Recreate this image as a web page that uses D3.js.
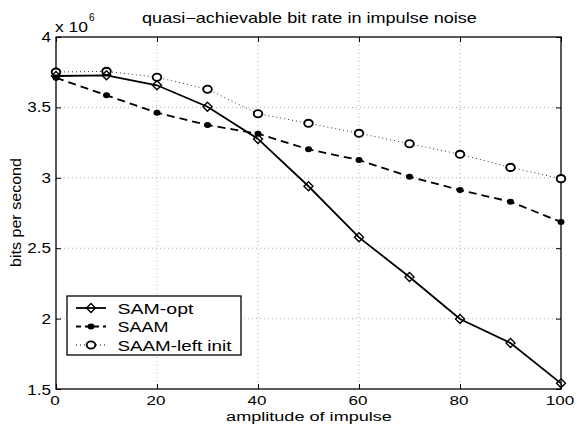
<!DOCTYPE html>
<html><head><meta charset="utf-8">
<script src="https://cdn.jsdelivr.net/npm/d3@7"></script>
<style>body{margin:0;background:#fff}svg{display:block;font-family:"Liberation Sans",Arial,sans-serif}</style>
</head><body><svg id="c" width="577" height="426"></svg>
<script>
const amplitudes=[0,10,20,30,40,50,60,70,80,90,100];
const samOpt=[3.723,3.728,3.657,3.505,3.276,2.94,2.577,2.295,1.997,1.826,1.54];
const saam=[3.71,3.586,3.462,3.375,3.313,3.202,3.126,3.008,2.913,2.83,2.686];
const saamLeft=[3.751,3.756,3.714,3.629,3.455,3.387,3.316,3.242,3.167,3.074,2.994];
const xTicks=[0,20,40,60,80,100];
const yTicks=[1.5,2,2.5,3,3.5,4];
const seriesNames=["SAM-opt","SAAM","SAAM-left init"];

const svg=d3.select("#c");
const L=56,R=561,T=37,B=389;
const x=d3.scaleLinear().domain([0,100]).range([L,R]);
const y=d3.scaleLinear().domain([1.5,4]).range([B,T]);

// text placed at (tx,ty); horizontally stretched by sx (or to fit width w)
function txt(parent,tx,ty,str,size,anchor,opt){
  opt=opt||{};
  const t=parent.append("text").attr("font-size",size).attr("text-anchor",anchor||"start").attr("fill","#000").text(str);
  let sx=opt.sx||1;
  if(opt.w){sx=opt.w/t.node().getComputedTextLength();}
  t.attr("transform",`translate(${tx},${ty})`+(opt.rot?` rotate(${opt.rot})`:"")+` scale(${sx},1)`);
  return t;
}

// grid
const g=svg.append("g");
g.selectAll(".gx").data(xTicks.slice(1,-1)).join("line")
 .attr("x1",d=>x(d)).attr("x2",d=>x(d)).attr("y1",T).attr("y2",B)
 .attr("stroke","#999").attr("stroke-width",0.8).attr("stroke-dasharray","1,3");
g.selectAll(".gy").data(yTicks.slice(1,-1)).join("line")
 .attr("y1",d=>y(d)).attr("y2",d=>y(d)).attr("x1",L).attr("x2",R)
 .attr("stroke","#999").attr("stroke-width",0.8).attr("stroke-dasharray","1,3");

// axes (tick marks)
const ax=svg.append("g").attr("transform",`translate(0,${B})`)
 .call(d3.axisBottom(x).tickValues(xTicks).tickSize(-5).tickFormat(""));
const ay=svg.append("g").attr("transform",`translate(${L},0)`)
 .call(d3.axisLeft(y).tickValues(yTicks).tickSize(-5).tickFormat(""));
const axT=svg.append("g").attr("transform",`translate(0,${T})`)
 .call(d3.axisTop(x).tickValues(xTicks).tickSize(-5).tickFormat(""));
const ayR=svg.append("g").attr("transform",`translate(${R},0)`)
 .call(d3.axisRight(y).tickValues(yTicks).tickSize(-5).tickFormat(""));
[ax,ay,axT,ayR].forEach(a=>{a.select(".domain").remove();a.selectAll("line").attr("stroke","#000");});
svg.append("rect").attr("x",L).attr("y",T).attr("width",R-L).attr("height",B-T)
 .attr("fill","none").attr("stroke","#000").attr("stroke-width",1.3);

// tick labels
const tl=svg.append("g");
const probe=tl.append("text").attr("font-size",14).text("40");
const TSX=19/probe.node().getComputedTextLength();
probe.remove();
xTicks.forEach(v=>txt(tl,x(v)-1,405,d3.format("d")(v),13.5,"middle",{sx:TSX*14/13.5}));
yTicks.forEach(v=>txt(tl,51,y(v)+(v===1.5?6:5),String(v),14,"end",{sx:TSX}));

// series
const lineGen=d3.line().x((d,i)=>x(amplitudes[i])).y(d=>y(d));
function diamond(sel,cx,cy){sel.append("path").attr("d",`M${cx},${cy-4.5}L${cx+4.5},${cy}L${cx},${cy+4.5}L${cx-4.5},${cy}Z`)
 .attr("fill","none").attr("stroke","#000").attr("stroke-width",1.4);}
function ring(sel,cx,cy){sel.append("ellipse").attr("cx",cx).attr("cy",cy).attr("rx",4.3).attr("ry",3.6)
 .attr("fill","#fff").attr("stroke","#000").attr("stroke-width",1.9);}
function dot(sel,cx,cy){sel.append("ellipse").attr("cx",cx).attr("cy",cy).attr("rx",3.5).attr("ry",3).attr("fill","#000");}
// SAAM-left
svg.append("path").datum(saamLeft).attr("d",lineGen).attr("fill","none").attr("stroke","#333").attr("stroke-width",1).attr("stroke-dasharray","1,3");
const rg=svg.append("g");
saamLeft.forEach((d,i)=>ring(rg,x(amplitudes[i]),y(d)));
// SAAM
svg.append("path").datum(saam).attr("d",lineGen).attr("fill","none").attr("stroke","#000").attr("stroke-width",1.8).attr("stroke-dasharray","8,5");
const sg=svg.append("g");
saam.forEach((d,i)=>dot(sg,x(amplitudes[i]),y(d)));
// SAM-opt
svg.append("path").datum(samOpt).attr("d",lineGen).attr("fill","none").attr("stroke","#000").attr("stroke-width",1.8);
const dg=svg.append("g");
samOpt.forEach((d,i)=>diamond(dg,x(amplitudes[i]),y(d)));

// texts
txt(svg,309.5,23,"quasi\u2212achievable bit rate in impulse noise",14,"middle",{w:335});
const ex=txt(svg,55,31.5,"x 10",14,"start",{w:33});
svg.append("text").attr("x",89).attr("y",21).attr("font-size",10).attr("fill","#000").text("6");
txt(svg,309,420.5,"amplitude of impulse",13.5,"middle",{w:166});
txt(svg,21,212.5,"bits per second",14,"middle",{w:109,rot:-90});

// legend
const lg=svg.append("g");
lg.append("rect").attr("x",67).attr("y",296).attr("width",174).attr("height",59).attr("fill","#fff").attr("stroke","#000").attr("stroke-width",1.3);
const ly=[308,326.5,345];
const lw=[76,51,114];
const styles=[{dash:null,w:1.8},{dash:"5,4",w:1.8},{dash:"1,3",w:1}];
seriesNames.forEach((n,i)=>{
 lg.append("line").attr("x1",76).attr("x2",106).attr("y1",ly[i]).attr("y2",ly[i]).attr("stroke","#000").attr("stroke-width",styles[i].w).attr("stroke-dasharray",styles[i].dash);
 if(i===0) diamond(lg,91,ly[i]);
 if(i===1) dot(lg,91,ly[i]);
 if(i===2) ring(lg,91,ly[i]);
 txt(lg,117.5,ly[i]+5.5,n,15,"start",{w:lw[i]});
});
</script></body></html>
